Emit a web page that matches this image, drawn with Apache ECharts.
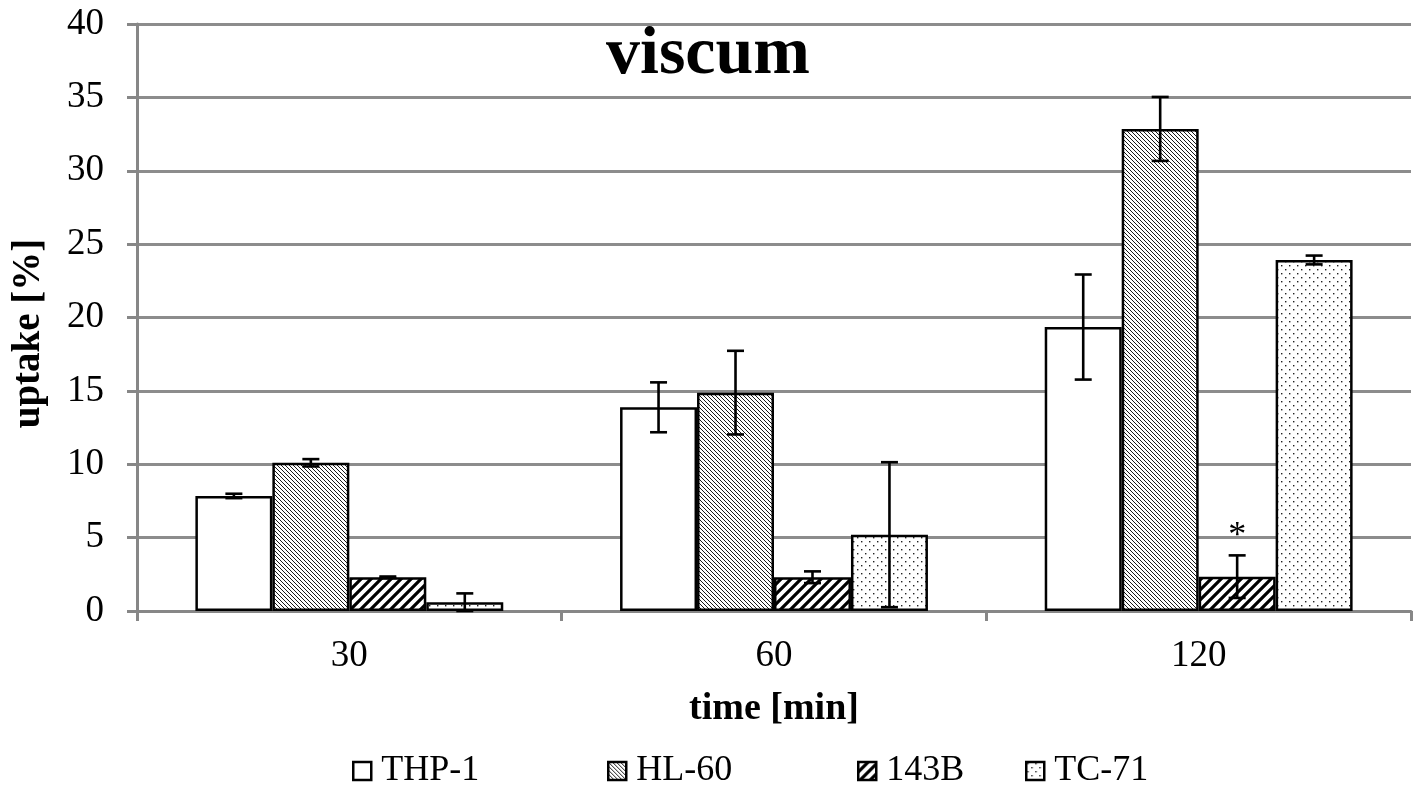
<!DOCTYPE html>
<html>
<head>
<meta charset="utf-8">
<script src="https://cdn.jsdelivr.net/npm/echarts@6/dist/echarts.min.js"></script>
<style>
html,body{margin:0;padding:0;background:#fff;}
#chart{width:1416px;height:786px;}
</style>
</head>
<body>
<div id="chart"></div>
<script>
// ---- data ----
const categories = ['30', '60', '120'];
const seriesNames = ['THP-1', 'HL-60', '143B', 'TC-71'];
const thp1 = [7.84, 13.88, 19.35];
const hl60 = [10.1, 14.88, 32.85];
const b143 = [2.3, 2.3, 2.34];
const tc71 = [0.6, 5.2, 23.92];
const thp1Err = [0.15, 1.7, 3.58];
const hl60Err = [0.25, 2.85, 2.18];
const b143Err = [0.05, 0.4, 1.45];
const tc71Err = [0.6, 4.94, 0.3];
const b143Marks = ['', '', '*'];
const yTicks = [0, 5, 10, 15, 20, 25, 30, 35, 40];

const values = [thp1, hl60, b143, tc71];
const errors = [thp1Err, hl60Err, b143Err, tc71Err];
const marks = [null, null, b143Marks, null];

const FONT = "'Liberation Serif', 'Times New Roman', serif";

// ---- patterns ----
function makeCanvas(w, h) {
  const c = document.createElement('canvas');
  c.width = w; c.height = h;
  return c;
}
function patPlain() { return '#ffffff'; }
function patDense() {
  const s = 4;
  const c = makeCanvas(s, s), g = c.getContext('2d');
  g.fillStyle = '#fff'; g.fillRect(0, 0, s, s);
  g.strokeStyle = '#000'; g.lineWidth = 0.9;
  g.beginPath();
  g.moveTo(-1, -1); g.lineTo(s + 1, s + 1);
  g.moveTo(-1, s - 1); g.lineTo(1, s + 1);
  g.moveTo(s - 1, -1); g.lineTo(s + 1, 1);
  g.stroke();
  return { image: c, repeat: 'repeat' };
}
function patWide() {
  const s = 10;
  const c = makeCanvas(s, s), g = c.getContext('2d');
  g.fillStyle = '#fff'; g.fillRect(0, 0, s, s);
  g.strokeStyle = '#000'; g.lineWidth = 3.2;
  g.beginPath();
  g.moveTo(-2, s + 2); g.lineTo(s + 2, -2);
  g.moveTo(-2, 2); g.lineTo(2, -2);
  g.moveTo(s - 2, s + 2); g.lineTo(s + 2, s - 2);
  g.stroke();
  return { image: c, repeat: 'repeat' };
}
function patDots() {
  const s = 8;
  const c = makeCanvas(s, s), g = c.getContext('2d');
  g.fillStyle = '#fff'; g.fillRect(0, 0, s, s);
  g.fillStyle = '#222';
  g.fillRect(1, 1, 1.4, 1.4);
  g.fillRect(5, 5, 1.4, 1.4);
  return { image: c, repeat: 'repeat' };
}
const fills = [patPlain(), patDense(), patWide(), patDots()];

const chart = echarts.init(document.getElementById('chart'), null, { renderer: 'canvas' });

const CAT_GAP = 0.275;
const series = [];
seriesNames.forEach((name, i) => {
  series.push({
    name: name,
    type: 'bar',
    data: values[i],
    barGap: '0%',
    barCategoryGap: (CAT_GAP * 100) + '%',
    itemStyle: { color: fills[i], borderColor: '#000', borderWidth: 2.5 },
    emphasis: { disabled: true },
    z: 2
  });
});
seriesNames.forEach((name, i) => {
  series.push({
    name: name + ' err',
    type: 'custom',
    z: 5,
    silent: true,
    data: values[i].map((v, k) => [k, v - errors[i][k], v + errors[i][k], v]),
    renderItem: function (params, api) {
      const k = api.value(0);
      const catW = api.size([1, 0])[0];
      const barW = catW * (1 - CAT_GAP) / 4;
      const center = api.coord([k, 0])[0] + (i - 1.5) * barW;
      const lo = api.coord([k, Math.max(api.value(1), 0)])[1];
      const hi = api.coord([k, api.value(2)])[1];
      const cap = 8.5;
      const st = { stroke: '#000', lineWidth: 2.6 };
      const children = [
        { type: 'line', shape: { x1: center, y1: lo, x2: center, y2: hi }, style: st },
        { type: 'line', shape: { x1: center - cap, y1: hi, x2: center + cap, y2: hi }, style: st },
        { type: 'line', shape: { x1: center - cap, y1: lo, x2: center + cap, y2: lo }, style: st }
      ];
      const m = marks[i] ? marks[i][k] : '';
      if (m) {
        children.push({
          type: 'text',
          style: { text: m, x: center, y: hi - 1, align: 'center', verticalAlign: 'bottom',
                   font: '36px ' + FONT, fill: '#000' }
        });
      }
      return { type: 'group', children: children };
    }
  });
});

const legendLefts = [347, 602, 852, 1020];
const legends = seriesNames.map((name, i) => ({
  data: [{ name: name, icon: 'rect' }],
  left: legendLefts[i],
  top: 748,
  itemWidth: 18,
  itemHeight: 18,
  selectedMode: false,
  itemStyle: { borderColor: '#000', borderWidth: 2.5 },
  textStyle: { fontFamily: FONT, fontSize: 36, color: '#000', padding: [0, 0, 0, 5] }
}));

const option = {
  animation: false,
  backgroundColor: '#fff',
  title: {
    text: 'viscum',
    left: 'center',
    top: 16,
    textStyle: { fontFamily: FONT, fontSize: 68, fontWeight: 'bold', color: '#000' }
  },
  legend: legends,
  grid: { left: 137, right: 5, top: 24, bottom: 175, containLabel: false, outerBoundsMode: 'none' },
  xAxis: {
    type: 'category',
    data: categories,
    name: 'time [min]',
    nameLocation: 'middle',
    nameGap: 79,
    nameTextStyle: { fontFamily: FONT, fontSize: 38, fontWeight: 'bold', color: '#000' },
    axisLine: { lineStyle: { color: '#878787', width: 3 } },
    axisTick: { show: true, length: 10, lineStyle: { color: '#878787', width: 3 } },
    axisLabel: { fontFamily: FONT, fontSize: 37, color: '#000', margin: 27 },
    splitLine: { show: false }
  },
  yAxis: {
    type: 'value',
    min: 0,
    max: 40,
    interval: 5,
    name: 'uptake [%]',
    nameLocation: 'middle',
    nameGap: 89,
    nameRotate: 90,
    nameTextStyle: { fontFamily: FONT, fontSize: 39, fontWeight: 'bold', color: '#000', padding: [0, 32, 0, 0] },
    axisLine: { show: true, lineStyle: { color: '#878787', width: 3 } },
    axisTick: { show: true, length: 10, lineStyle: { color: '#878787', width: 3 } },
    axisLabel: {
      fontFamily: FONT, fontSize: 37, color: '#000', margin: 33,
      formatter: function (v) { return yTicks.indexOf(v) >= 0 ? String(v) : ''; }
    },
    splitLine: { show: true, lineStyle: { color: '#8c8c8c', width: 3 } }
  },
  series: series
};
chart.setOption(option);
</script>
</body>
</html>
